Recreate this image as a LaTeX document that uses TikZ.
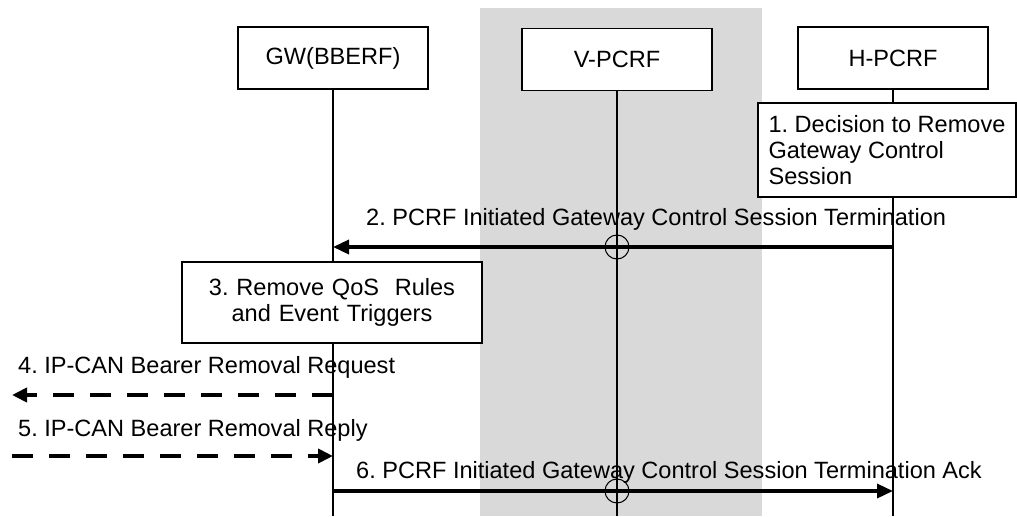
\documentclass[tikz,border=0pt]{standalone}
\usepackage{fontspec}
\setmainfont{Liberation Sans}
\usetikzlibrary{arrows.meta}
\frenchspacing
\tikzset{
  ent/.style={draw,line width=0.6pt,fill=white,minimum width=3.8cm,minimum height=1.24cm,inner sep=0pt},
  act/.style={draw,line width=0.6pt,fill=white,inner sep=0pt},
  life/.style={line width=0.6pt},
  msg/.style={line width=2pt,-{Triangle[length=0.32cm,width=0.28cm]}},
  dmsg/.style={line width=2.4pt,dash pattern=on 0.42cm off 0.32cm,-{Triangle[length=0.3cm,width=0.28cm]}}
}
\begin{document}
\begin{tikzpicture}[font=\fontsize{13.4}{14.6}\selectfont]
%\draw[step=1cm,gray,very thin] (0,0) grid (20,10);
\useasboundingbox (0,0) rectangle (20.34,10.32);
\fill[black!15] (9.6,0) rectangle (15.24,10.16);
\node[ent] (gw) at (6.66,9.16) {GW(BBERF)};
\node[ent] (vp) at (12.34,9.13) {V-PCRF};
\node[ent] (hp) at (17.86,9.16) {H-PCRF};
\node[act,minimum width=5.16cm,minimum height=1.88cm,align=left] (dec) at (17.74,7.32) {1. Decision to Remove\\Gateway Control\\Session};
\node[act,minimum width=6cm,minimum height=1.62cm,align=center,text width=5.3cm] (rm) at (6.64,4.27) {3. Remove QoS~ Rules\\and Event Triggers};
\coordinate (gwend) at (6.66,0);
\coordinate (vpend) at (12.34,0);
\coordinate (hpend) at (17.86,0);
% lifelines
\draw[life] (gw.south) -- (gw.south |- rm.north);
\draw[life] (gw.south |- rm.south) -- (gwend);
\draw[life] (vp.south) -- (vpend);
\draw[life] (hp.south) -- (hp.south |- dec.north);
\draw[life] (hp.south |- dec.south) -- (hpend);
% messages
\coordinate (gw2) at (6.66,5.38);
\coordinate (hp2) at (17.86,5.38);
\coordinate (gw4) at (6.66,2.42);
\coordinate (ue4) at (0.24,2.42);
\coordinate (ue5) at (0.24,1.2);
\coordinate (gw5) at (6.66,1.2);
\coordinate (gw6) at (6.66,0.5);
\coordinate (hp6) at (17.86,0.5);
\draw[msg] (hp2) -- (gw2);
\draw[dmsg] (gw4) -- (ue4);
\draw[dmsg] (ue5) -- (gw5);
\draw[msg] (gw6) -- (hp6);
\draw[life] (12.34,5.38) circle (0.24);
\draw[life] (12.34,0.5) circle (0.24);
\node[anchor=base west] (l2) at (7.2,5.82) {2. PCRF Initiated Gateway Control Session Termination};
\node[anchor=base west] (l4) at (0.24,2.86) {4. IP-CAN Bearer Removal Request};
\node[anchor=base west] (l5) at (0.24,1.6) {5. IP-CAN Bearer Removal Reply};
\node[anchor=base west] (l6) at (7.0,0.76) {6. PCRF Initiated Gateway Control Session Termination Ack};
\end{tikzpicture}
\end{document}
